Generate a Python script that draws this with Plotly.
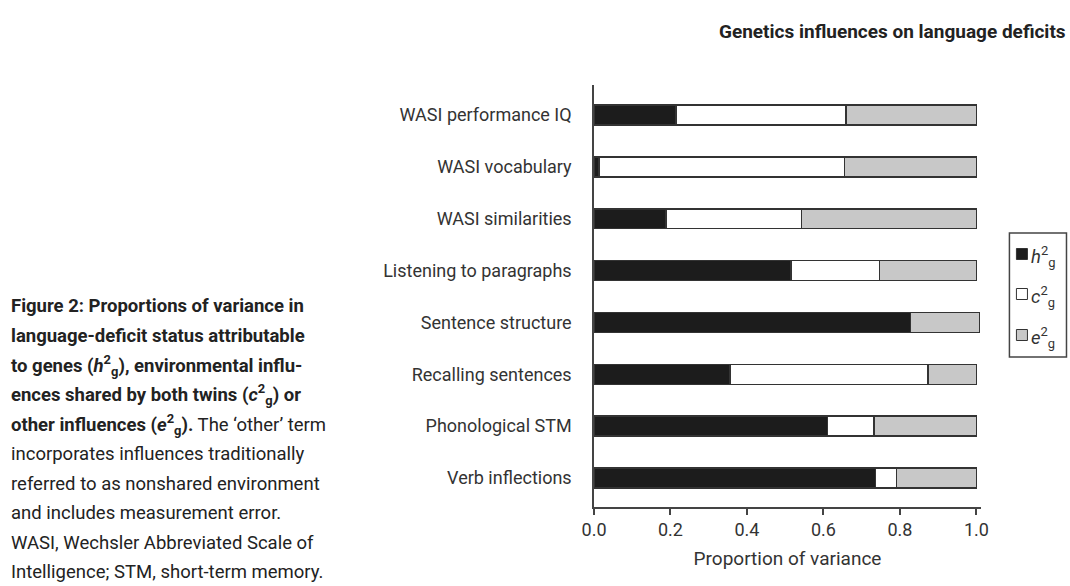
import plotly.graph_objects as go

categories = ["WASI performance IQ", "WASI vocabulary", "WASI similarities",
              "Listening to paragraphs", "Sentence structure", "Recalling sentences",
              "Phonological STM", "Verb inflections"]
h2 = [0.215, 0.013, 0.188, 0.515, 0.827, 0.356, 0.611, 0.736]
c2 = [0.444, 0.642, 0.354, 0.231, 0.000, 0.517, 0.121, 0.055]
e2 = [0.341, 0.345, 0.458, 0.254, 0.181, 0.127, 0.268, 0.209]
series_names = ["<i>h</i><sup>2</sup><sub>g</sub>",
                "<i>c</i><sup>2</sup><sub>g</sub>",
                "<i>e</i><sup>2</sup><sub>g</sub>"]
x_ticks = [0.0, 0.2, 0.4, 0.6, 0.8, 1.0]
x_ticklabels = ["0.0", "0.2", "0.4", "0.6", "0.8", "1.0"]

FONT = "Roboto, Liberation Sans, sans-serif"
TXT = "#333333"
colors = ["#1c1c1c", "#ffffff", "#c8c8c8"]

W, H = 1070, 586
XMAX = 1.012
L = 594
T = 85
pw = 386.6
ph = 422
R = W - L - pw
B = H - T - ph

def px(xr):
    return (xr - L) / pw

def py(yr):
    return (H - B - yr) / ph

fig = go.Figure()
for name, vals, col in zip(series_names, [h2, c2, e2], colors):
    fig.add_trace(go.Bar(y=categories, x=vals, name=name, orientation="h",
                         marker=dict(color=col, line=dict(color="#333333", width=1.5)),
                         width=0.385, showlegend=False))

fig.update_layout(
    width=W, height=H, barmode="stack",
    margin=dict(l=L, r=R, t=T, b=B, autoexpand=False),
    paper_bgcolor="white", plot_bgcolor="white",
    font=dict(family=FONT, color=TXT, size=16),
    xaxis=dict(range=[0, XMAX], tickvals=x_ticks, ticktext=x_ticklabels,
               showgrid=False, zeroline=False, showline=True, linecolor="#444444",
               linewidth=1.5, ticks="outside", ticklen=6, tickcolor="#444444", tickwidth=1.5,
               tickfont=dict(size=18, color=TXT),
               title=dict(text="Proportion of variance", font=dict(size=19, color=TXT), standoff=12)),
    yaxis=dict(categoryorder="array", categoryarray=categories[::-1],
               range=[-0.56, 7.58], showgrid=False, zeroline=False,
               showline=True, linecolor="#444444", linewidth=1.5, ticks="",
               ticklabelstandoff=17, tickfont=dict(size=18, color=TXT)),
)

fig.add_annotation(text="<b>Genetics influences on language deficits</b>",
                   xref="paper", yref="paper", x=px(1068), y=py(32),
                   xanchor="right", yanchor="middle", showarrow=False,
                   font=dict(size=19, color="#222222"))

# boxed key drawn by hand to match the compact legend of the reference
fig.add_shape(type="rect", xref="paper", yref="paper",
              x0=px(1009), x1=px(1066), y0=py(233), y1=py(357),
              line=dict(color="#444444", width=1.5), fillcolor="white")
leg_y = [254, 294, 335]
for name, col, yc in zip(series_names, colors, leg_y):
    fig.add_shape(type="rect", xref="paper", yref="paper",
                  x0=px(1016), x1=px(1027), y0=py(yc - 5.5), y1=py(yc + 5.5),
                  line=dict(color="#333333", width=1), fillcolor=col)
    fig.add_annotation(text=name, xref="paper", yref="paper",
                       x=px(1029), y=py(yc + 2), xanchor="left", yanchor="middle",
                       showarrow=False, font=dict(size=18.5, color=TXT))

caption = [
    "<b>Figure 2: Proportions of variance in</b>",
    "<b>language-deficit status attributable</b>",
    "<b>to genes (<i>h</i><sup>2</sup><sub>g</sub>), environmental influ-</b>",
    "<b>ences shared by both twins (<i>c</i><sup>2</sup><sub>g</sub>) or</b>",
    "<b>other influences (<i>e</i><sup>2</sup><sub>g</sub>).</b> The \u2018other\u2019 term",
    "incorporates influences traditionally",
    "referred to as nonshared environment",
    "and includes measurement error.",
    "WASI, Wechsler Abbreviated Scale of",
    "Intelligence; STM, short-term memory.",
]
for i, line in enumerate(caption):
    fig.add_annotation(text=line, xref="paper", yref="paper",
                       x=px(10), y=py(306 + 29.6 * i), xanchor="left", yanchor="middle",
                       showarrow=False, font=dict(size=18.5, color="#222222"))

fig.write_html("out.html", config={"displayModeBar": False},
               post_script="document.body.style.margin='0';"
                           "document.body.style.overflow='hidden';")
